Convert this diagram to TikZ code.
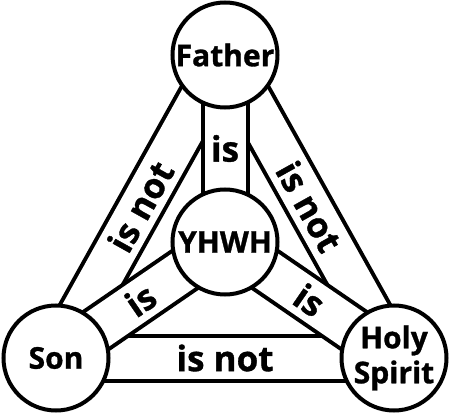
\documentclass[tikz,border=0pt]{standalone}
\usepackage{fontspec}
\setmainfont{Open Sans}[BoldFeatures={FakeBold=1}]

\tikzset{
  person/.style={circle, draw, line width=4pt, fill=white, minimum size=105pt,
    inner sep=0pt, align=center, font=\fontsize{30}{35}\selectfont\bfseries},
  bar/.style={line width=4pt, double=white, double distance=41pt},
  rel/.style={inner sep=0pt, font=\fontsize{35}{40}\selectfont\bfseries}
}

\begin{document}
\begin{tikzpicture}[x=1pt,y=-1pt]
\useasboundingbox (0,0) rectangle (450,414);

% centres of the four circles
\coordinate (f) at (225,55);
\coordinate (y) at (225,242);
\coordinate (s) at (56,358);
\coordinate (h) at (394,358);

% outer bars
\draw[bar] (s) -- node[rel,sloped] {is not} (f);
\draw[bar] (f) -- node[rel,sloped] {is not} (h);
\draw[bar] (s) -- node[rel] {is not} (h);
% inner bars
\draw[bar] (f) -- node[rel] {is} (y);
\draw[bar] (s) -- node[rel,sloped] {is} (y);
\draw[bar] (y) -- node[rel,sloped] {is} (h);

% circles
\node[person] (father) at (f) {Father};
\node[person] (yhwh) at (y) {YHWH};
\node[person] (son) at (s) {Son};
\node[person] (spirit) at (h) {Holy\\Spirit};
\end{tikzpicture}
\end{document}
